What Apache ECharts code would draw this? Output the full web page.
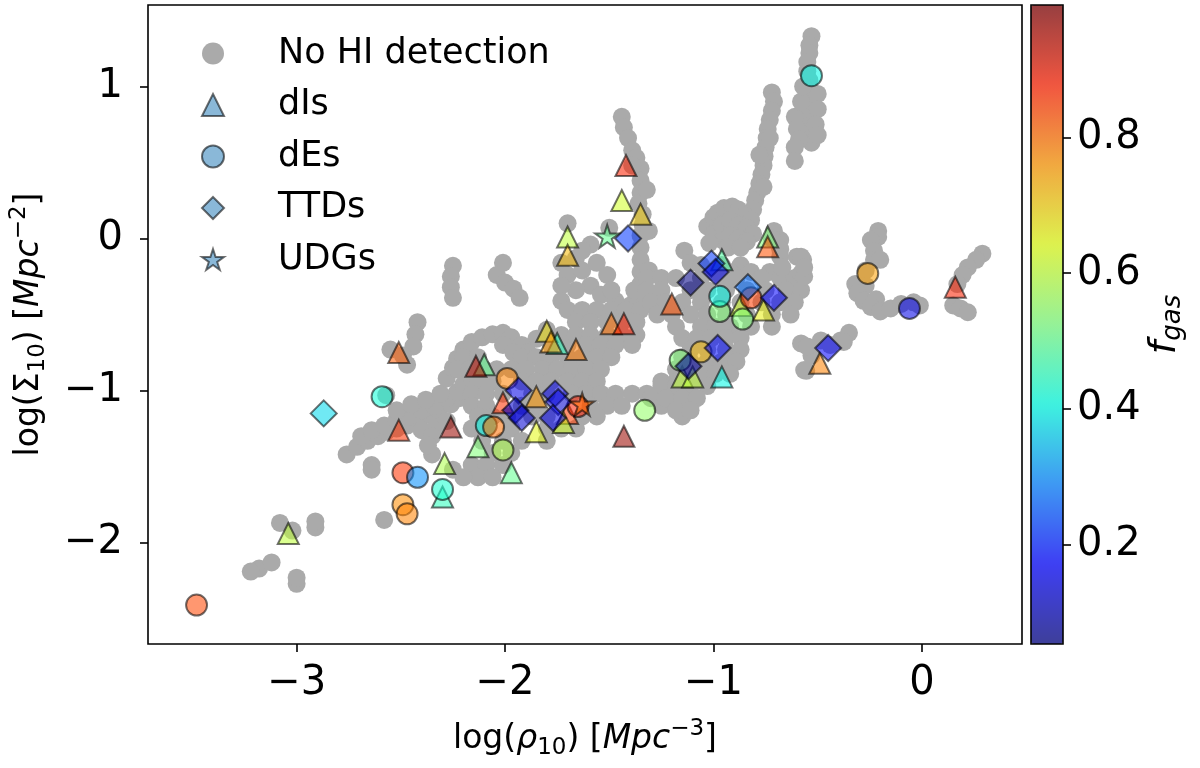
<!DOCTYPE html>
<html>
<head>
<meta charset="utf-8">
<script src="https://cdn.jsdelivr.net/npm/echarts@6/dist/echarts.min.js"></script>
<style>
  html, body { margin: 0; padding: 0; background: #fff; }
  #main { width: 1200px; height: 768px; }
</style>
</head>
<body>
<div id="main"></div>
<script>
var chartDom = document.getElementById('main');
var myChart = echarts.init(chartDom);
var option;

// galaxies without HI detection: [log rho10, log Sigma10]
let noHI = [
  // small blobs upper left
  [-2.25,-0.18],[-2.26,-0.25],[-2.26,-0.32],[-2.25,-0.39],
  [-2.01,-0.16],[-2.04,-0.24],[-2.00,-0.29],[-1.96,-0.33],[-1.93,-0.39],
  // narrow column near -1.4
  [-1.44,0.80],[-1.43,0.73],[-1.41,0.66],[-1.39,0.58],[-1.37,0.53],[-1.35,0.46],[-1.35,0.38],[-1.35,0.30],
  [-1.36,0.23],[-1.34,0.16],[-1.34,0.09],[-1.35,0.02],[-1.35,-0.06],[-1.35,-0.14],[-1.35,-0.22],[-1.35,-0.30],
  [-1.37,-0.38],[-1.40,-0.44],[-1.32,0.32],[-1.31,0.05],[-1.31,-0.21],[-1.39,0.48],
  // around the UDG star
  [-1.70,0.10],[-1.50,0.07],[-1.59,-0.04],[-1.66,-0.13],[-1.73,-0.16],[-1.70,-0.24],[-1.63,-0.21],[-1.56,-0.16],
  [-1.51,-0.24],[-1.59,-0.31],[-1.66,-0.34],[-1.73,-0.31],[-1.54,-0.37],[-1.47,-0.41],[-1.73,-0.41],[-1.63,-0.08],
  [-1.49,-0.34],[-1.38,-0.34],[-1.38,-0.49],
  [-1.70,-0.47],[-1.63,-0.47],[-1.56,-0.47],[-1.49,-0.47],[-1.42,-0.47],[-1.35,-0.47],
  [-1.66,-0.55],[-1.59,-0.55],[-1.51,-0.55],[-1.44,-0.55],[-1.37,-0.55],
  [-1.80,-0.60],[-1.85,-0.66],[-1.78,-0.70],[-1.70,-0.70],
  // blob near -2.45
  [-2.42,-0.55],[-2.43,-0.63],[-2.44,-0.71],[-2.49,-0.77],[-2.55,-0.73],[-2.47,-0.83],
  // lower-left band
  [-2.76,-1.42],[-2.71,-1.37],[-2.66,-1.33],[-2.61,-1.30],[-2.57,-1.27],[-2.52,-1.25],[-2.47,-1.23],[-2.42,-1.19],
  [-2.37,-1.16],[-2.32,-1.13],[-2.26,-1.09],[-2.22,-1.05],[-2.18,-1.00],
  [-2.69,-1.30],[-2.64,-1.26],[-2.58,-1.23],[-2.52,-1.19],[-2.46,-1.17],[-2.40,-1.13],[-2.34,-1.10],[-2.28,-1.05],
  [-2.23,-1.01],[-2.20,-0.96],[-2.16,-0.92],
  [-2.52,-1.13],[-2.45,-1.09],[-2.38,-1.06],[-2.31,-1.02],[-2.40,-1.26],[-2.33,-1.24],[-2.28,-1.20],[-2.35,-1.30],
  [-2.28,-0.92],[-2.25,-0.85],[-2.23,-0.79],[-2.20,-0.73],[-2.16,-0.68],[-2.11,-0.65],[-2.06,-0.63],[-2.01,-0.62],
  [-1.97,-0.65],[-1.92,-0.70],[-1.89,-0.75],[-2.01,-0.70],[-1.96,-0.75],[-1.91,-0.79],
  // central band
  [-1.73,-0.635],[-1.66,-0.635],[-1.59,-0.635],[-1.51,-0.635],[-1.44,-0.635],[-1.37,-0.635],
  [-1.61,-0.70],[-1.54,-0.70],[-1.47,-0.70],[-1.39,-0.70],
  [-2.20,-0.78],[-2.13,-0.78],[-1.92,-0.78],[-1.85,-0.78],[-1.78,-0.78],[-1.70,-0.78],[-1.63,-0.78],[-1.56,-0.78],
  [-1.49,-0.78],[-1.15,-0.78],
  [-2.23,-0.86],[-2.17,-0.86],[-2.10,-0.86],[-2.04,-0.86],[-1.97,-0.86],[-1.90,-0.86],[-1.82,-0.86],[-1.75,-0.86],
  [-1.68,-0.86],[-1.61,-0.86],[-1.54,-0.86],[-1.18,-0.86],
  [-2.13,-0.94],[-2.06,-0.94],[-1.92,-0.94],[-1.85,-0.94],[-1.78,-0.94],[-1.70,-0.94],[-1.63,-0.94],[-1.56,-0.94],
  [-1.25,-0.94],[-1.18,-0.94],[-1.11,-0.94],
  [-2.16,-1.02],[-2.09,-1.02],[-2.01,-1.02],[-1.87,-1.02],[-1.80,-1.02],[-1.68,-1.02],[-1.61,-1.02],[-1.54,-1.02],
  [-1.47,-1.02],[-1.39,-1.02],[-1.32,-1.02],[-1.25,-1.02],[-1.18,-1.02],[-1.11,-1.02],
  [-2.16,-1.10],[-2.09,-1.10],[-1.92,-1.10],[-1.85,-1.10],[-1.59,-1.10],[-1.51,-1.10],[-1.44,-1.10],[-1.25,-1.10],
  [-1.18,-1.10],[-1.11,-1.10],
  [-2.13,-1.17],[-2.06,-1.17],[-1.99,-1.17],[-1.87,-1.17],[-1.80,-1.17],[-1.63,-1.17],[-1.56,-1.17],[-1.15,-1.17],
  [-2.16,-1.25],[-2.09,-1.25],[-1.97,-1.25],[-1.80,-1.25],[-1.73,-1.25],[-1.66,-1.25],
  [-2.11,-1.33],[-2.01,-1.33],[-1.92,-1.33],[-1.80,-1.33],
  [-2.06,-1.41],[-1.97,-1.41],
  [-2.16,-1.49],[-2.09,-1.49],[-2.01,-1.49],
  [-2.13,-1.57],[-2.06,-1.57],[-2.25,-1.52],[-2.20,-1.57],[-2.35,-1.42],[-2.37,-1.36],
  // upper band towards -0.6
  [-1.14,-0.08],[-1.11,-0.16],
  [-1.06,-0.175],[-0.96,-0.175],[-0.87,-0.175],
  [-1.01,-0.22],[-0.92,-0.22],[-0.82,-0.22],[-0.73,-0.22],
  [-1.32,-0.26],[-1.25,-0.26],[-1.18,-0.26],[-1.06,-0.26],[-0.96,-0.26],[-0.89,-0.26],[-0.77,-0.26],[-0.68,-0.26],[-0.61,-0.26],
  [-1.32,-0.34],[-1.25,-0.34],[-1.11,-0.34],[-1.03,-0.34],[-0.94,-0.34],[-0.84,-0.34],[-0.75,-0.34],[-0.65,-0.34],[-0.58,-0.34],
  [-1.30,-0.42],[-1.23,-0.42],[-1.15,-0.42],[-1.06,-0.42],[-0.96,-0.42],[-0.87,-0.42],[-0.77,-0.42],[-0.68,-0.42],[-0.61,-0.42],
  [-1.27,-0.50],[-1.20,-0.50],[-1.11,-0.50],[-1.03,-0.50],[-0.94,-0.50],[-0.84,-0.50],[-0.72,-0.50],[-0.63,-0.50],
  [-1.18,-0.58],[-1.06,-0.58],[-0.99,-0.58],[-0.92,-0.58],[-0.82,-0.58],[-0.72,-0.58],
  [-1.15,-0.655],[-1.08,-0.655],[-1.01,-0.655],[-0.94,-0.655],[-0.87,-0.655],
  [-1.11,-0.73],[-1.03,-0.73],[-0.94,-0.73],[-0.87,-0.73],
  [-1.11,-0.81],[-1.03,-0.81],[-0.96,-0.81],[-0.89,-0.81],
  [-1.15,-0.89],[-1.06,-0.89],[-0.99,-0.89],[-0.92,-0.89],
  [-1.25,-0.97],[-1.18,-0.97],[-1.11,-0.97],[-1.03,-0.97],
  [-1.30,-1.05],[-1.23,-1.05],[-1.15,-1.05],[-1.08,-1.05],
  [-1.18,-1.13],[-1.11,-1.13],
  // tall column near -0.55
  [-0.53,1.33],[-0.54,1.27],[-0.54,1.22],[-0.55,1.16],[-0.55,1.10],[-0.54,1.04],[-0.54,0.99],[-0.54,0.93],
  [-0.55,0.87],[-0.55,0.80],[-0.55,0.74],[-0.55,0.69],[-0.53,0.63],[-0.50,0.95],[-0.50,0.85],[-0.51,0.75],
  [-0.50,0.68],[-0.61,0.80],[-0.60,0.72],[-0.59,0.65],[-0.61,0.60],[-0.61,0.51],[-0.58,0.90],[-0.57,1.00],
  // diagonal track near -0.75
  [-0.72,0.96],[-0.71,0.90],[-0.72,0.84],[-0.73,0.78],[-0.74,0.72],[-0.745,0.66],[-0.75,0.60],[-0.755,0.54],
  [-0.76,0.48],[-0.77,0.42],[-0.78,0.36],[-0.79,0.30],[-0.80,0.25],[-0.81,0.19],[-0.78,0.55],[-0.76,0.34],[-0.73,0.66],
  // clump near (-0.9, 0.1)
  [-1.03,0.08],[-1.00,0.14],[-0.98,0.17],[-0.95,0.20],[-0.91,0.21],[-0.88,0.19],[-0.85,0.15],[-0.82,0.12],
  [-1.00,0.03],[-0.96,0.09],[-0.92,0.12],[-0.88,0.09],[-0.84,0.07],[-0.81,0.03],[-0.96,-0.01],[-0.92,0.02],
  [-0.88,0.00],[-0.84,-0.02],[-0.93,-0.06],[-0.87,-0.06],[-1.02,-0.03],
  [-0.71,0.05],[-0.68,-0.01],[-0.68,-0.07],[-0.68,-0.12],[-0.67,-0.19],[-0.60,-0.12],[-0.57,-0.14],[-0.58,-0.23],
  [-0.565,-0.25],[-0.58,-0.12],[-0.565,-0.19],[-0.72,0.00],
  // hook near 0
  [-0.21,0.05],[-0.21,0.01],[-0.245,-0.01],[-0.23,-0.08],[-0.23,-0.14],[-0.20,-0.14],[-0.27,-0.21],[-0.32,-0.30],
  [-0.27,-0.31],[-0.31,-0.36],[-0.28,-0.41],[-0.22,-0.40],[-0.245,-0.45],[-0.20,-0.48],[-0.15,-0.46],[-0.10,-0.43],
  [-0.04,-0.42],[-0.01,-0.44],
  [0.29,-0.10],[0.26,-0.14],[0.22,-0.19],[0.195,-0.24],[0.17,-0.30],[0.15,-0.44],[0.185,-0.46],[0.22,-0.485],
  // arm near -0.45
  [-0.58,-0.69],[-0.53,-0.77],[-0.555,-0.87],[-0.39,-0.67],[-0.35,-0.62],[-0.485,-0.67],[-0.375,-0.68],[-0.55,-0.71],
  [-0.565,-0.865],[-0.44,-0.70],
  // far lower left
  [-3.08,-1.87],[-3.02,-1.92],[-2.91,-1.90],[-2.91,-1.86],[-3.18,-2.17],[-3.12,-2.13],[-3.22,-2.19],[-3.00,-2.27],
  [-3.00,-2.23],[-2.58,-1.85],[-2.64,-1.49],[-2.64,-1.52],[-2.57,-1.03]
];

// [log rho10, log Sigma10, f_gas]
let dIs = [
  [-1.42,0.48,0.88],[-1.44,0.25,0.62],[-1.35,0.16,0.70],[-1.70,0.01,0.60],[-1.70,-0.11,0.72],
  [-0.74,0.01,0.53],[-0.74,-0.055,0.83],[-0.96,-0.14,0.48],[-1.20,-0.43,0.83],[-1.49,-0.56,0.80],
  [-1.43,-0.56,0.88],[0.16,-0.32,0.88],[-0.87,-0.44,0.62],[-0.76,-0.47,0.66],[-1.15,-0.91,0.60],
  [-1.10,-0.91,0.60],[-0.96,-0.91,0.40],[-0.49,-0.82,0.78],[-1.80,-0.61,0.68],[-1.75,-0.69,0.45],
  [-1.78,-0.68,0.76],[-1.66,-0.73,0.79],[-2.10,-0.83,0.50],[-2.14,-0.84,0.95],[-1.85,-1.04,0.76],
  [-2.01,-1.08,0.86],[-1.70,-1.15,0.85],[-1.72,-1.21,0.62],[-1.85,-1.27,0.65],[-2.26,-1.24,0.97],
  [-1.43,-1.30,0.97],[-2.13,-1.37,0.53],[-1.97,-1.54,0.50],[-2.29,-1.48,0.58],[-2.30,-1.70,0.45],
  [-2.51,-0.75,0.82],[-2.51,-1.26,0.86],[-3.04,-1.94,0.60]
];
let dEs = [
  [-0.53,1.07,0.40],[-0.26,-0.23,0.75],[-0.06,-0.46,0.15],[-0.97,-0.48,0.53],[-0.97,-0.38,0.40],
  [-0.82,-0.39,0.85],[-0.86,-0.53,0.53],[-1.16,-0.80,0.53],[-1.06,-0.745,0.72],[-1.33,-1.13,0.55],
  [-1.65,-1.105,0.88],[-1.99,-0.92,0.78],[-2.09,-1.23,0.40],[-2.055,-1.24,0.80],[-2.01,-1.39,0.58],
  [-2.59,-1.04,0.42],[-2.49,-1.54,0.86],[-2.42,-1.57,0.30],[-2.30,-1.65,0.43],[-2.49,-1.75,0.77],
  [-2.47,-1.81,0.78],[-3.48,-2.41,0.84]
];
let TTDs = [
  [-1.41,0.00,0.22],[-1.01,-0.165,0.22],[-0.99,-0.22,0.15],[-1.11,-0.29,0.06],[-0.835,-0.32,0.27],
  [-0.71,-0.39,0.17],[-0.98,-0.72,0.18],[-1.12,-0.84,0.08],[-0.45,-0.72,0.17],[-1.935,-1.00,0.15],
  [-1.76,-1.02,0.15],[-1.745,-1.075,0.13],[-1.95,-1.13,0.13],[-1.92,-1.18,0.13],[-1.77,-1.18,0.15],
  [-2.87,-1.15,0.37]
];
let UDGs = [
  [-1.51,0.015,0.50],[-1.63,-1.09,0.80]
];

let xTicks = [-3, -2, -1, 0];
let yTicks = [-2, -1, 0, 1];
let cbTicks = [0.2, 0.4, 0.6, 0.8];
let fgasRange = [0.054, 0.995];

// jet colormap, alpha 0.7
let jet = ['rgba(0,0,128,0.7)','rgba(0,0,255,0.7)','rgba(0,128,255,0.7)','rgba(0,255,227,0.7)',
  'rgba(124,255,124,0.7)','rgba(227,255,20,0.7)','rgba(255,151,0,0.7)','rgba(255,33,0,0.7)','rgba(128,0,0,0.7)'];

let starPath = 'path://M100,0L122.45,69.1L195.1,69.1L136.3,111.8L158.8,180.9L100,138.2L41.2,180.9L63.7,111.8L4.9,69.1L77.55,69.1Z';
let font = 'DejaVu Sans';
let edge = { borderColor: 'rgba(0,0,0,0.7)', borderWidth: 2 };
let legendBlue = 'rgba(31,119,180,0.65)';

function minus(v) {
  return v < 0 ? '\u2212' + Math.abs(v) : String(v);
}

let richName = {
  sub: { fontSize: 23, fontFamily: font, verticalAlign: 'bottom', lineHeight: 23 },
  sup: { fontSize: 23, fontFamily: font, verticalAlign: 'top', lineHeight: 23 },
  it: { fontSize: 33, fontFamily: font, fontStyle: 'italic', lineHeight: 42 }
};

option = {
  animation: false,
  textStyle: { fontFamily: font },
  grid: [
    { left: 145, top: 5, width: 877, height: 639, show: true, borderColor: '#000', borderWidth: 1.6 },
    { left: 1031, top: 5, width: 32, height: 639, show: true, borderColor: '#000', borderWidth: 1.6, z: 10 }
  ],
  xAxis: [
    {
      type: 'value', gridIndex: 0, min: -3.713, max: 0.48,
      splitLine: { show: false },
      axisLine: { show: false, onZero: false },
      axisTick: { customValues: xTicks, length: 8, lineStyle: { color: '#000', width: 1.6 } },
      axisLabel: { customValues: xTicks, fontSize: 40, color: '#000', fontFamily: font, margin: 20, formatter: minus },
      name: 'log({it|\u03c1}{sub|10}) [{it|Mpc}{sup|\u22123}]',
      nameLocation: 'middle', nameGap: 74,
      nameTextStyle: { fontSize: 33, color: '#000', fontFamily: font, lineHeight: 42, rich: richName }
    },
    { type: 'value', gridIndex: 1, min: 0, max: 1, show: false }
  ],
  yAxis: [
    {
      type: 'value', gridIndex: 0, min: -2.666, max: 1.535,
      splitLine: { show: false },
      axisLine: { show: false, onZero: false },
      axisTick: { customValues: yTicks, length: 8, lineStyle: { color: '#000', width: 1.6 } },
      axisLabel: { customValues: yTicks, fontSize: 40, color: '#000', fontFamily: font, margin: 25, formatter: minus },
      name: 'log(\u03a3{sub|10}) [{it|Mpc}{sup|\u22122}]',
      nameLocation: 'middle', nameRotate: 90, nameGap: 98,
      nameTextStyle: { fontSize: 33, color: '#000', fontFamily: font, lineHeight: 42, rich: richName }
    },
    {
      type: 'value', gridIndex: 1, position: 'right', min: fgasRange[0], max: fgasRange[1],
      splitLine: { show: false },
      axisLine: { show: false, onZero: false },
      axisTick: { customValues: cbTicks, length: 8, lineStyle: { color: '#000', width: 1.6 } },
      axisLabel: { customValues: cbTicks, fontSize: 40, color: '#000', fontFamily: font, margin: 14 },
      name: '{f|f}{g|gas}',
      nameLocation: 'middle', nameRotate: 90, nameGap: 70,
      nameTextStyle: {
        color: '#000', lineHeight: 42,
        rich: {
          f: { fontSize: 38, fontFamily: font, fontStyle: 'italic', lineHeight: 42 },
          g: { fontSize: 26, fontFamily: font, fontStyle: 'italic', verticalAlign: 'bottom', lineHeight: 26 }
        }
      }
    }
  ],
  visualMap: {
    type: 'continuous', show: true,
    min: fgasRange[0], max: fgasRange[1],
    dimension: 2, seriesIndex: [1, 2, 3, 4],
    calculable: false, hoverLink: false,
    orient: 'vertical', left: 1031, top: 5,
    itemWidth: 32, itemHeight: 639, padding: 0,
    inRange: { color: jet }
  },
  legend: {
    orient: 'vertical', left: 201, top: 36, padding: 0,
    itemWidth: 22, itemHeight: 22, itemGap: 16.5,
    selectedMode: false,
    textStyle: { fontSize: 35, color: '#000', fontFamily: font, padding: [0, 0, 0, 49] },
    data: [
      { name: 'No HI detection', icon: 'circle', itemStyle: { color: '#aaaaaa', borderWidth: 0 } },
      { name: 'dIs', icon: 'triangle', itemStyle: Object.assign({ color: legendBlue }, edge) },
      { name: 'dEs', icon: 'circle', itemStyle: Object.assign({ color: legendBlue }, edge) },
      { name: 'TTDs', icon: 'diamond', itemStyle: Object.assign({ color: legendBlue }, edge) },
      { name: 'UDGs', icon: starPath, itemStyle: Object.assign({ color: legendBlue }, edge) }
    ]
  },
  series: [
    {
      name: 'No HI detection', type: 'scatter', data: noHI,
      symbol: 'circle', symbolSize: 18,
      itemStyle: { color: '#aaaaaa', opacity: 1 }
    },
    { name: 'dIs', type: 'scatter', data: dIs, symbol: 'triangle', symbolSize: 21, itemStyle: edge },
    { name: 'dEs', type: 'scatter', data: dEs, symbol: 'circle', symbolSize: 21, itemStyle: edge },
    { name: 'TTDs', type: 'scatter', data: TTDs, symbol: 'diamond', symbolSize: 26, itemStyle: edge },
    { name: 'UDGs', type: 'scatter', data: UDGs, symbol: starPath, symbolKeepAspect: true, symbolSize: 24, itemStyle: edge }
  ]
};

option && myChart.setOption(option);
</script>
</body>
</html>
